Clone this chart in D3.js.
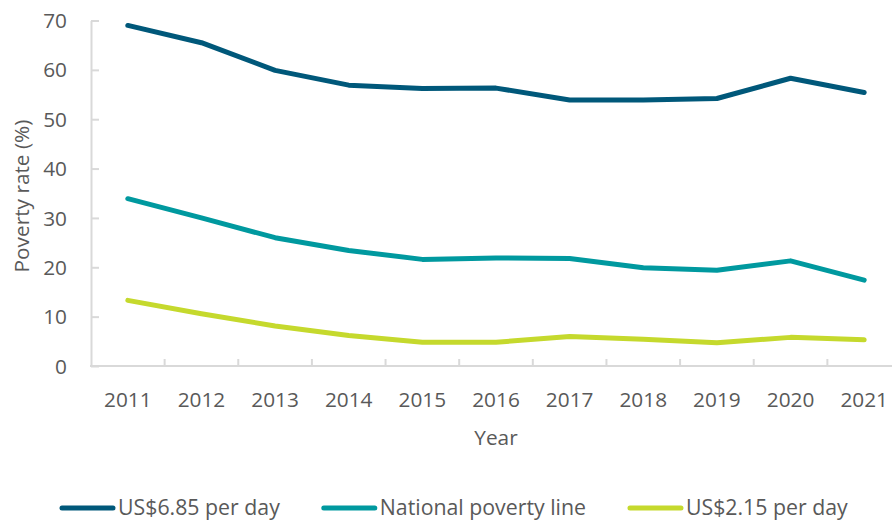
<!DOCTYPE html>
<html>
<head>
<meta charset="utf-8">
<script src="https://cdn.jsdelivr.net/npm/d3@7"></script>
<style>
  html, body { margin: 0; padding: 0; background: #fff; }
  svg { display: block; }
  text { font-family: "Open Sans", "Noto Sans", sans-serif; fill: #595959; }
</style>
</head>
<body>
<svg id="chart" width="892" height="523"></svg>
<script>
// Poverty rates by year, in percent
const years = ["2011","2012","2013","2014","2015","2016","2017","2018","2019","2020","2021"];
const usd685 = [69.0, 65.5, 59.9, 56.9, 56.2, 56.3, 53.9, 53.9, 54.2, 58.3, 55.4];
const nationalLine = [33.9, 30.0, 26.0, 23.4, 21.6, 21.9, 21.8, 19.9, 19.4, 21.3, 17.4];
const usd215 = [13.3, 10.6, 8.1, 6.2, 4.8, 4.8, 6.0, 5.4, 4.7, 5.8, 5.3];
const seriesNames = ["US$6.85 per day", "National poverty line", "US$2.15 per day"];
const seriesColors = ["#00587a", "#00999f", "#c5d92d"];
const yTicks = [0, 10, 20, 30, 40, 50, 60, 70];

const series = [usd685, nationalLine, usd215].map((values, i) => ({
  name: seriesNames[i], color: seriesColors[i], values
}));

const svg = d3.select("#chart");
const axisColor = "#d9d9d9";
const fontSize = 20.8;
const legendFontSize = 21.3;

const x = d3.scaleBand().domain(years).range([91, 901]).paddingInner(0).paddingOuter(0);
const y = d3.scaleLinear().domain([0, 70]).range([366, 20.5]);
const cx = d => x(d) + x.bandwidth() / 2;

// Y axis: ticks pointing into the plot, labels to the left
const yAxis = d3.axisLeft(y).tickValues(yTicks).tickSize(-8).tickPadding(32).tickSizeOuter(0);
const gy = svg.append("g").attr("transform", "translate(91,0)").call(yAxis);
gy.select(".domain").attr("stroke", axisColor).attr("stroke-width", 2);
gy.selectAll(".tick line").attr("stroke", axisColor).attr("stroke-width", 2);
gy.selectAll(".tick text")
  .attr("font-size", fontSize).attr("fill", "#595959")
  .attr("font-family", "'Open Sans', sans-serif")
  .attr("x", -24).attr("dy", "0.34em");

// X axis: category boundary ticks pointing up into the plot
const gx = svg.append("g").attr("transform", "translate(0,366)");
gx.append("line")
  .attr("x1", 90).attr("x2", 901).attr("y1", 0).attr("y2", 0)
  .attr("stroke", axisColor).attr("stroke-width", 2);
gx.selectAll("line.bound")
  .data(years.slice(1))
  .join("line")
  .attr("class", "bound")
  .attr("x1", d => x(d)).attr("x2", d => x(d))
  .attr("y1", 0).attr("y2", -7)
  .attr("stroke", axisColor).attr("stroke-width", 2);
gx.selectAll("text.year")
  .data(years)
  .join("text")
  .attr("class", "year")
  .attr("x", d => cx(d))
  .attr("y", 34)
  .attr("dy", "0.34em")
  .attr("text-anchor", "middle")
  .attr("font-size", fontSize)
  .text(d => d);

// Axis titles
svg.append("text")
  .attr("x", 496).attr("y", 438).attr("dy", "0.34em")
  .attr("text-anchor", "middle").attr("font-size", fontSize)
  .text("Year");
svg.append("text")
  .attr("transform", "translate(22,196) rotate(-90)")
  .attr("dy", "0.34em")
  .attr("text-anchor", "middle").attr("font-size", fontSize)
  .text("Poverty rate (%)");

// Lines
const line = d3.line()
  .x((v, i) => cx(years[i]))
  .y(v => y(v));
svg.append("g").selectAll("path")
  .data(series)
  .join("path")
  .attr("d", s => line(s.values))
  .attr("fill", "none")
  .attr("stroke", s => s.color)
  .attr("stroke-width", 5)
  .attr("stroke-linecap", "round")
  .attr("stroke-linejoin", "round");

// Legend
const legend = svg.append("g").attr("transform", "translate(0,508)");
let lx = 60;
series.forEach(s => {
  const g = legend.append("g");
  g.append("line")
    .attr("x1", lx + 2).attr("x2", lx + 53).attr("y1", 0).attr("y2", 0)
    .attr("stroke", s.color).attr("stroke-width", 5).attr("stroke-linecap", "round");
  const t = g.append("text")
    .attr("x", lx + 58).attr("y", 0).attr("dy", "0.34em")
    .attr("font-size", legendFontSize)
    .text(s.name);
  lx += 58 + t.node().getComputedTextLength() + 42;
});
</script>
</body>
</html>
